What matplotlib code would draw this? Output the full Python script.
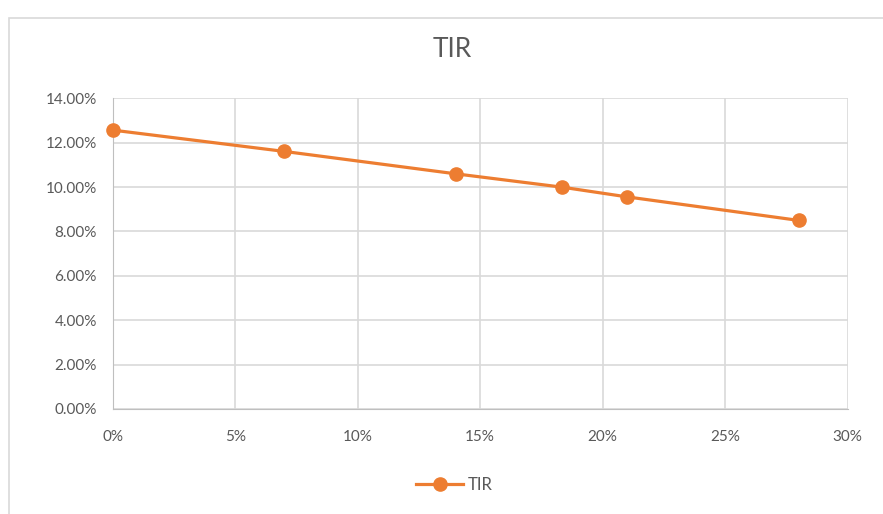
import matplotlib
matplotlib.use("Agg")
import matplotlib.pyplot as plt
from matplotlib.ticker import FuncFormatter, MultipleLocator
from matplotlib.patches import Rectangle

x_values = [0, 7, 14, 18.33, 21, 28]          # percent
tir_values = [12.57, 11.61, 10.60, 10.00, 9.56, 8.50]  # percent
series_name = "TIR"
title = "TIR"

plt.rcParams['font.family'] = ['Lato', 'DejaVu Sans']
text_color = "#595959"
grid_color = "#d9d9d9"
orange = "#ED7D31"

fig = plt.figure(figsize=(8.83, 5.14), dpi=100)
ax = fig.add_axes([0.1276, 0.2043, 0.96 - 0.1276, 0.8086 - 0.2043])

ax.plot(x_values, tir_values, color=orange, lw=2.3, marker='o', markersize=9.5,
        label=series_name, zorder=3, clip_on=False)

ax.set_xlim(0, 30)
ax.set_ylim(0, 14)
ax.xaxis.set_major_locator(MultipleLocator(5))
ax.yaxis.set_major_locator(MultipleLocator(2))
ax.xaxis.set_major_formatter(FuncFormatter(lambda v, p: f"{v:.0f}%"))
ax.yaxis.set_major_formatter(FuncFormatter(lambda v, p: f"{v:.2f}%"))
ax.grid(True, color=grid_color, lw=1.2)
ax.set_axisbelow(True)
for s in ax.spines.values():
    s.set_visible(False)
ax.spines['bottom'].set_visible(True)
ax.spines['bottom'].set_color("#bfbfbf")
ax.spines['left'].set_visible(True)
ax.spines['left'].set_color("#bfbfbf")
ax.tick_params(length=0, labelsize=11, colors=text_color)
ax.tick_params(axis='x', pad=15)
ax.tick_params(axis='y', pad=11.5)

fig.text(0.512, 0.903, title, ha='center', va='center', fontsize=19, color=text_color)

leg = fig.legend(loc='center', bbox_to_anchor=(0.515, 0.056), frameon=False,
                 fontsize=12, handlelength=2.8, handletextpad=0.3)
for t in leg.get_texts():
    t.set_color(text_color)

fig.patches.append(Rectangle((9/883, -0.1), 1.2, 1 - 18/514 + 0.1,
                             transform=fig.transFigure, fill=False,
                             edgecolor="#d9d9d9", lw=1.2))

fig.savefig("out.png", dpi=100)
